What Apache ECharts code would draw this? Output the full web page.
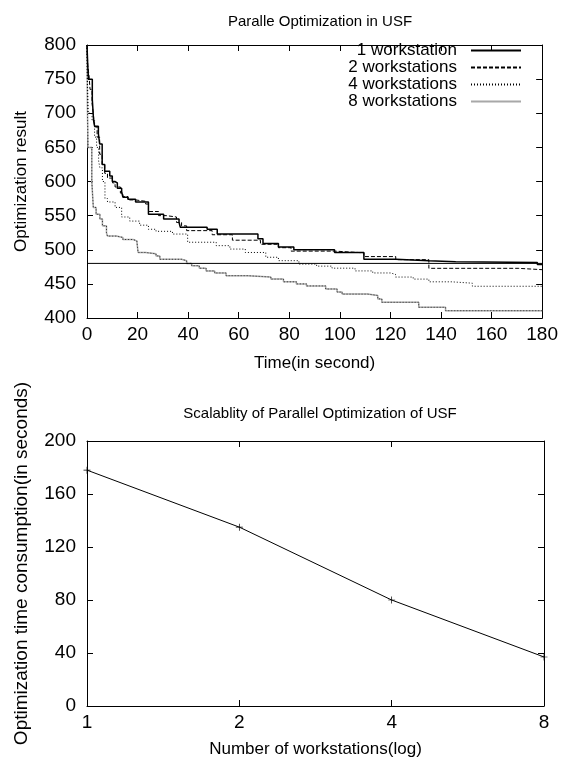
<!DOCTYPE html>
<html>
<head>
<meta charset="utf-8">
<script src="https://cdn.jsdelivr.net/npm/echarts@6/dist/echarts.min.js"></script>
<style>
    html,body{margin:0;padding:0;background:#fff;}
    #chart{width:561px;height:764px;}
</style>
</head>
<body>
<div id="chart"></div>
<script>
// [time (s), optimization result] - gnuplot "steps" curves
let ws1Steps = [[0,800],[0.3,770],[0.6,750],[2.1,720],[2.6,690],[3,681],[4.5,670],[5,655],[6,625],[7,615],[9,608],[10,600],[11,598],[12,590],[13.7,585],[14.2,577],[16.2,574],[19.2,570],[24.3,552],[30.3,545],[36.4,540],[36.9,533],[47.5,530],[51.5,523],[67.6,516],[69.6,509],[75.7,504],[81.8,500],[97.9,496],[109.5,486],[122.1,484],[135.2,482.5],[145.8,481.5],[178.1,478.5],[180,478.5]];
let ws2Steps = [[0,800],[0.3,770],[0.8,755],[1.2,735],[2,715],[2.6,695],[3,680],[4,665],[5,640],[6,625],[7,612],[8.1,605],[10.1,598],[11.1,592],[13.2,583],[14.2,578],[16.2,573],[19.2,571],[23.2,567],[24.3,556],[28.3,550],[31.3,548],[35.4,540],[37.4,535],[39.4,528],[49.5,522],[57.5,514],[68.6,508],[75.7,503],[80.7,498],[97.9,495.5],[109.5,490],[122.1,485.5],[135.2,472.8],[170.5,470.8],[180,470.8]];
let ws4Steps = [[0,800],[0.2,740],[0.5,700],[2,690],[3,665],[3.8,650],[4.6,630],[5.1,620],[6.1,600],[7.1,575],[8.1,570],[11.1,562],[13.7,548],[16.9,542],[20.8,536],[24.3,530],[27.3,527],[33.8,523],[39.8,511],[51.1,506],[56.5,501],[62.6,496],[70.7,489],[75.7,484],[83.8,479],[90.8,476],[96.9,473],[106,469],[113,466],[120,464],[122,460],[129,457],[135.2,453],[144.3,451],[152.4,446.5],[180,446.5]];
let ws8Steps = [[0,800],[0.2,700],[0.4,650],[1.9,600],[2.5,562],[3.6,552],[5.1,545],[6.1,535],[7.7,525],[8.1,520],[11.6,518],[14.2,515],[18.2,513],[19.7,511],[20.2,496],[23.2,494],[27.3,491],[28.8,486],[37.4,484],[39.4,480],[41.4,476.6],[44.4,473],[47.1,469],[50.5,466],[55,462],[63.6,460],[72.7,457],[77.7,453],[82.8,450],[86.8,447],[94.4,442.5],[98.9,438],[100.9,435],[111,433],[115,428],[116.6,423],[131.2,415.7],[141.8,410.7],[180,410.7]];
let refLevel = [[0,480],[180,480]];

// scalability
let workstations = [1, 2, 4, 8];
let timeConsumption = [178, 135, 80, 37];

let font = 'Liberation Sans, Arial, sans-serif';

function frameAxis(grid, pos, extra) {
    let ax = {
        gridIndex: grid,
        position: pos,
        axisLine: {show: true, onZero: false, lineStyle: {color: '#000', width: 1}},
        axisTick: {show: true, inside: true, length: 6, lineStyle: {color: '#000'}},
        axisLabel: {show: false},
        splitLine: {show: false}
    };
    return Object.assign(ax, extra);
}

let xLabelStyle = {show: true, color: '#000', fontSize: 19, fontFamily: font, margin: 7};
let yLabelStyle = {show: true, color: '#000', fontSize: 19, fontFamily: font, margin: 11};
let nameStyle = {color: '#000', fontSize: 17, fontFamily: font};

let chart = echarts.init(document.getElementById('chart'), null, {renderer: 'canvas'});

let option = {
    backgroundColor: '#fff',
    animation: false,
    title: [
        {text: 'Paralle Optimization in USF', left: 315, top: 9, textAlign: 'center',
         textStyle: {color: '#000', fontSize: 15, fontWeight: 'normal', fontFamily: font}},
        {text: 'Scalablity of Parallel Optimization of USF', left: 315, top: 401, textAlign: 'center',
         textStyle: {color: '#000', fontSize: 15, fontWeight: 'normal', fontFamily: font}}
    ],
    legend: {
        data: ['1 workstation', '2 workstations', '4 workstations', '8 workstations'],
        orient: 'vertical',
        align: 'right',
        right: 34,
        top: 37,
        itemWidth: 50,
        itemHeight: 10,
        itemGap: 0,
        itemStyle: {opacity: 0},
        textStyle: {color: '#000', fontSize: 17, lineHeight: 17, fontFamily: font, padding: [0, 9, 0, 0]}
    },
    grid: [
        {left: 87, right: 17, top: 45, height: 273},
        {left: 87, right: 17, top: 441, height: 265}
    ],
    xAxis: [
        frameAxis(0, 'bottom', {type: 'value', min: 0, max: 180, interval: 20, axisLabel: xLabelStyle,
            name: 'Time(in second)', nameLocation: 'middle', nameGap: 37, nameTextStyle: nameStyle}),
        frameAxis(0, 'top', {type: 'value', min: 0, max: 180, interval: 20}),
        frameAxis(1, 'bottom', {type: 'log', logBase: 2, min: 1, max: 8, axisLabel: xLabelStyle,
            name: 'Number of workstations(log)', nameLocation: 'middle', nameGap: 35, nameTextStyle: nameStyle}),
        frameAxis(1, 'top', {type: 'log', logBase: 2, min: 1, max: 8})
    ],
    yAxis: [
        frameAxis(0, 'left', {type: 'value', min: 400, max: 800, interval: 50, axisLabel: yLabelStyle,
            name: 'Optimization result', nameLocation: 'middle', nameGap: 57, nameTextStyle: nameStyle}),
        frameAxis(0, 'right', {type: 'value', min: 400, max: 800, interval: 50}),
        frameAxis(1, 'left', {type: 'value', min: 0, max: 200, interval: 40, axisLabel: yLabelStyle,
            name: 'Optimization time consumption(in seconds)', nameLocation: 'middle', nameGap: 56,
            nameTextStyle: {color: '#000', fontSize: 19, fontFamily: font, padding: [0, 0, 0, 20]}}),
        frameAxis(1, 'right', {type: 'value', min: 0, max: 200, interval: 40})
    ],
    series: [
        {
            name: '8 workstations', type: 'line', step: 'end', data: ws8Steps,
            xAxisIndex: 0, yAxisIndex: 0, symbol: 'none', color: '#a8a8a8',
            lineStyle: {color: '#a8a8a8', width: 1.5}
        },
        {
            name: '8 workstations (trace)', type: 'line', step: 'end', data: ws8Steps,
            xAxisIndex: 0, yAxisIndex: 0, symbol: 'none', color: '#333',
            lineStyle: {color: '#333', width: 1, type: [1, 2]}
        },
        {
            name: 'level', type: 'line', data: refLevel,
            xAxisIndex: 0, yAxisIndex: 0, symbol: 'none', color: '#000',
            lineStyle: {color: '#000', width: 1}
        },
        {
            name: '4 workstations', type: 'line', step: 'end', data: ws4Steps,
            xAxisIndex: 0, yAxisIndex: 0, symbol: 'none', color: '#000',
            lineStyle: {color: '#000', width: 1, type: [1, 2]}
        },
        {
            name: '2 workstations', type: 'line', step: 'end', data: ws2Steps,
            xAxisIndex: 0, yAxisIndex: 0, symbol: 'none', color: '#000',
            lineStyle: {color: '#000', width: 1, type: [4, 2]}
        },
        {
            name: '1 workstation', type: 'line', step: 'end', data: ws1Steps,
            xAxisIndex: 0, yAxisIndex: 0, symbol: 'none', color: '#000',
            lineStyle: {color: '#000', width: 1.5}
        },
        {
            name: 'scalability', type: 'line',
            data: workstations.map((w, i) => [w, timeConsumption[i]]),
            xAxisIndex: 2, yAxisIndex: 2, color: '#000',
            symbol: 'path://M4.5,0h1v10h-1zM0,4.5h10v1h-10z', symbolSize: 7,
            itemStyle: {color: '#000'},
            lineStyle: {color: '#000', width: 1}
        }
    ]
};
chart.setOption(option);
</script>
</body>
</html>
